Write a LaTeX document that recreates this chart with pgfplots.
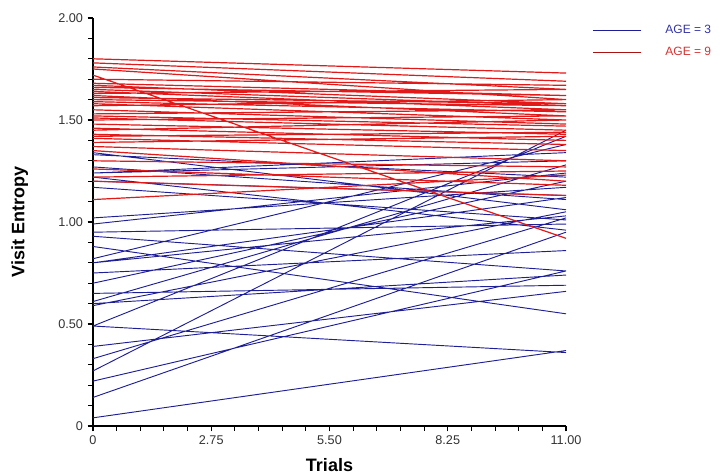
\documentclass[border=0pt]{standalone}
\usepackage{fontspec}
\setmainfont{Liberation Sans}
\usepackage{pgfplots}
\pgfplotsset{compat=1.18}
\definecolor{agethree}{RGB}{30,30,150}
\definecolor{agenine}{RGB}{225,25,25}
\definecolor{agethreetxt}{RGB}{50,50,170}
\definecolor{aginetxt}{RGB}{215,50,50}

\begin{document}
\begin{tikzpicture}
\useasboundingbox (-69.75pt,-36.75pt) rectangle (473.25pt,319.5pt);
\begin{axis}[
    scale only axis,
    width=354.75pt, height=306pt,
    xmin=0, xmax=11, ymin=0, ymax=2,
    axis x line=bottom, axis y line=left,
    axis line style={-, black, line width=0.8pt},
    xtick={0,2.75,5.5,8.25,11},
    xticklabels={0,2.75,5.50,8.25,11.00},
    ytick={0,0.5,1,1.5,2},
    yticklabels={0,0.50,1.00,1.50,2.00},
    minor x tick num=4, minor y tick num=4,
    tick align=outside,
    major tick length=4pt, minor tick length=3.5pt,
    every tick/.style={black, line width=0.8pt},
    tick label style={font=\fontsize{9.5}{10}\selectfont, text=black!80},
    xlabel={\textbf{Trials}},
    ylabel={\textbf{Visit Entropy}},
    label style={font=\fontsize{13.5}{15}\selectfont},
    xlabel style={at={(axis description cs:0.5,-0.096)}, anchor=center},
    ylabel style={at={(axis description cs:-0.155,0.5)}, anchor=center},
    unbounded coords=jump,
    legend style={draw=none, fill=none, at={(axis description cs:1.055,0.99)}, anchor=north west,
        font=\fontsize{9}{10}\selectfont, inner sep=0pt, row sep=5pt},
    legend cell align=left,
    /tikz/every odd column/.append style={column sep=16pt},
]
% AGE = 3
\addplot[agethree, line width=0.7pt,
    legend image code/.code={\draw[agethree, line width=0.9pt] (0pt,0pt) -- (36pt,0pt);}] coordinates {
(0,0.04) (11,0.37) (0,nan)
(0,0.14) (11,0.95) (0,nan)
(0,0.22) (11,0.76) (0,nan)
(0,0.27) (11,1.45) (0,nan)
(0,0.33) (11,1.02) (0,nan)
(0,0.39) (11,0.66) (0,nan)
(0,0.49) (11,0.36) (0,nan)
(0,0.49) (11,1.42) (0,nan)
(0,0.59) (11,1.05) (0,nan)
(0,0.60) (11,0.74) (0,nan)
(0,0.61) (11,1.28) (0,nan)
(0,0.65) (11,0.69) (0,nan)
(0,0.70) (11,1.20) (0,nan)
(0,0.75) (11,0.86) (0,nan)
(0,0.80) (11,1.12) (0,nan)
(0,0.80) (11,1.03) (0,nan)
(0,0.82) (11,1.38) (0,nan)
(0,0.88) (11,0.55) (0,nan)
(0,0.93) (11,0.76) (0,nan)
(0,0.95) (11,0.99) (0,nan)
(0,0.99) (11,1.24) (0,nan)
(0,1.02) (11,1.17) (0,nan)
(0,1.17) (11,1.01) (0,nan)
(0,1.20) (11,1.13) (0,nan)
(0,1.22) (11,0.96) (0,nan)
(0,1.24) (11,1.30) (0,nan)
(0,1.24) (11,1.34) (0,nan)
(0,1.27) (11,1.11) (0,nan)
(0,1.33) (11,1.22) (0,nan)
(0,1.34) (11,1.06) (0,nan)
};
\addlegendentry{\textcolor{agethreetxt}{AGE = 3}}
% AGE = 9
\addplot[agenine, line width=0.9pt,
    legend image code/.code={\draw[agenine!75!black, line width=0.9pt] (0pt,0pt) -- (36pt,0pt);}] coordinates {
(0,1.80) (11,1.73) (0,nan)
(0,1.78) (11,1.69) (0,nan)
(0,1.76) (11,1.65) (0,nan)
(0,1.75) (11,1.60) (0,nan)
(0,1.72) (11,0.92) (0,nan)
(0,1.70) (11,1.67) (0,nan)
(0,1.68) (11,1.62) (0,nan)
(0,1.67) (11,1.58) (0,nan)
(0,1.66) (11,1.62) (0,nan)
(0,1.65) (11,1.57) (0,nan)
(0,1.64) (11,1.55) (0,nan)
(0,1.63) (11,1.65) (0,nan)
(0,1.62) (11,1.52) (0,nan)
(0,1.61) (11,1.58) (0,nan)
(0,1.60) (11,1.57) (0,nan)
(0,1.59) (11,1.54) (0,nan)
(0,1.58) (11,1.50) (0,nan)
(0,1.57) (11,1.60) (0,nan)
(0,1.55) (11,1.48) (0,nan)
(0,1.53) (11,1.55) (0,nan)
(0,1.52) (11,1.47) (0,nan)
(0,1.51) (11,1.45) (0,nan)
(0,1.50) (11,1.52) (0,nan)
(0,1.48) (11,1.43) (0,nan)
(0,1.46) (11,1.40) (0,nan)
(0,1.45) (11,1.50) (0,nan)
(0,1.43) (11,1.38) (0,nan)
(0,1.42) (11,1.44) (0,nan)
(0,1.41) (11,1.35) (0,nan)
(0,1.39) (11,1.42) (0,nan)
(0,1.37) (11,1.30) (0,nan)
(0,1.35) (11,1.20) (0,nan)
(0,1.30) (11,1.27) (0,nan)
(0,1.26) (11,1.18) (0,nan)
(0,1.22) (11,1.25) (0,nan)
(0,1.20) (11,1.13) (0,nan)
(0,1.11) (11,1.23) (0,nan)
};
\addlegendentry{\textcolor{aginetxt}{AGE = 9}}
\end{axis}
\end{tikzpicture}
\end{document}
